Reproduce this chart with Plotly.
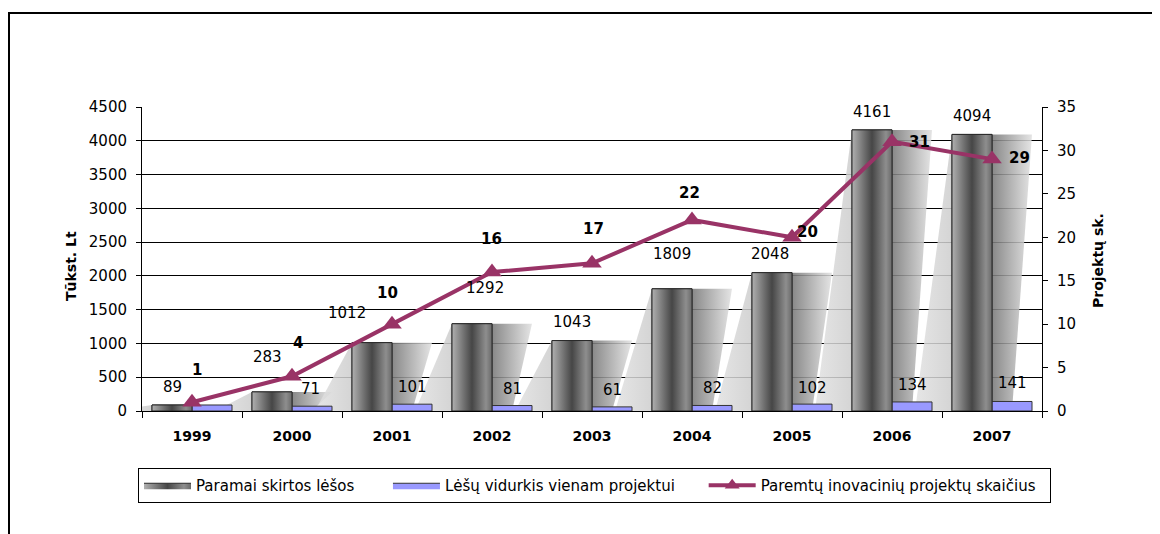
import plotly.graph_objects as go

years = ['1999', '2000', '2001', '2002', '2003', '2004', '2005', '2006', '2007']
funds = [89, 283, 1012, 1292, 1043, 1809, 2048, 4161, 4094]
avg_per_project = [89, 71, 101, 81, 61, 82, 102, 134, 141]
projects = [1, 4, 10, 16, 17, 22, 20, 31, 29]

name_funds = 'Paramai skirtos lėšos'
name_avg = 'Lėšų vidurkis vienam projektui'
name_proj = 'Paremtų inovacinių projektų skaičius'

# label offsets (pixels) - styling only
funds_lbl_off = [(0, 18), (-5, 35), (-25, 30), (13, 36), (0, 19), (0, 35), (-2, 19), (0, 18), (0, 18)]
avg_lbl_off = [None, (-2, 17), (0, 17), (0, 17), (0, 17), (0, 17), (0, 16), (0, 17), (0, 18)]
proj_lbl_off = [(5, 32), (6, 33), (-5, 31), (-1, 33), (1, 34), (-3, 27), (15, 5), (27, 0), (27, 1)]

FONT = 'DejaVu Sans'
LINE_COLOR = '#993366'
BAR_W = 0.4
SH_L = 0.37   # shadow slant at left edge (category units)
SH_R = 0.20   # shadow slant at right edge
BAR_GRAD = [[0, '#b0b0b0'], [0.5, '#464646'], [0.85, '#8e8e8e'], [1, '#6a6a6a']]
SHADOW_GRAD = [[0, 'rgba(226,226,226,0.85)'], [0.3, 'rgba(206,206,206,0.85)'],
               [0.66, 'rgba(120,120,120,0.88)'], [1, 'rgba(224,224,224,0.85)']]
NBSP = '\u00a0'

# figure / plot area geometry (px)
W, H = 1152, 526
ML, MT, PW, PH = 134, 99, 900, 304
MR, MB = W - ML - PW, H - MT - PH


def px_x(px):
    return (px - ML) / PW


def px_y(py):
    return (MT + PH - py) / PH


xs = list(range(len(years)))
fig = go.Figure()

# shadows (main subplot, drawn beneath the bars)
for i, v in zip(xs, funds):
    fig.add_trace(go.Scatter(
        x=[i - BAR_W, i + BAR_W, i + BAR_W - SH_R, i - BAR_W - SH_L, i - BAR_W],
        y=[v, v, 0, 0, v],
        mode='lines', line=dict(width=0), fill='toself', fillcolor='rgba(207,207,207,0.85)',
        fillgradient=dict(type='horizontal', colorscale=SHADOW_GRAD),
        showlegend=False, hoverinfo='skip', xaxis='x', yaxis='y'))

# bars
fig.add_trace(go.Bar(x=xs, y=funds, offset=-BAR_W, width=BAR_W, name=name_funds, showlegend=False,
                     marker=dict(color='#5a5a5a', line=dict(color='#2a2a2a', width=1)),
                     xaxis='x', yaxis='y2'))
fig.add_trace(go.Bar(x=xs, y=avg_per_project, offset=0, width=BAR_W, name=name_avg, showlegend=False,
                     marker=dict(color='#9999ff', line=dict(color='#333333', width=1)),
                     xaxis='x', yaxis='y2'))

# gradient face on the dark bars
for i, v in zip(xs, funds):
    fig.add_trace(go.Scatter(
        x=[i - BAR_W, i, i, i - BAR_W, i - BAR_W],
        y=[0, 0, v, v, 0],
        mode='lines', line=dict(width=1, color='#2a2a2a'), fill='toself', fillcolor='#5a5a5a',
        fillgradient=dict(type='horizontal', colorscale=BAR_GRAD),
        showlegend=False, hoverinfo='skip', xaxis='x', yaxis='y2'))

# line
fig.add_trace(go.Scatter(x=xs, y=projects, mode='lines+markers', name=name_proj, showlegend=False,
                         line=dict(color=LINE_COLOR, width=4),
                         marker=dict(symbol='triangle-up', size=17, color=LINE_COLOR),
                         xaxis='x', yaxis='y3'))

# legend entries
fig.add_trace(go.Scatter(x=[None], y=[None], name=name_funds + NBSP * 6, mode='lines', fill='toself',
                         fillcolor='#5a5a5a', fillgradient=dict(type='horizontal', colorscale=BAR_GRAD),
                         line=dict(color='#2a2a2a', width=1), xaxis='x', yaxis='y2'))
fig.add_trace(go.Scatter(x=[None], y=[None], name=name_avg + NBSP * 5, mode='lines', fill='toself',
                         fillcolor='#9999ff', line=dict(color='#333333', width=1), xaxis='x', yaxis='y2'))
fig.add_trace(go.Scatter(x=[None], y=[None], name=name_proj + NBSP * 2, mode='lines+markers',
                         line=dict(color=LINE_COLOR, width=4),
                         marker=dict(symbol='triangle-up', size=13, color=LINE_COLOR),
                         xaxis='x', yaxis='y3'))

annotations = []
for i, v, off in zip(xs, funds, funds_lbl_off):
    annotations.append(dict(x=i - BAR_W / 2, y=v, xref='x', yref='y', text=str(v), showarrow=False,
                            xshift=off[0], yshift=off[1], font=dict(family=FONT, size=15, color='black')))
for i, v, off in zip(xs, avg_per_project, avg_lbl_off):
    if off is None:
        continue
    annotations.append(dict(x=i + BAR_W / 2, y=v, xref='x', yref='y', text=str(v), showarrow=False,
                            xshift=off[0], yshift=off[1], font=dict(family=FONT, size=15, color='black')))
for i, v, off in zip(xs, projects, proj_lbl_off):
    annotations.append(dict(x=i, y=v, xref='x', yref='y3', text='<b>%d</b>' % v, showarrow=False,
                            xshift=off[0], yshift=off[1], font=dict(family=FONT, size=15, color='black')))

annotations.append(dict(x=px_x(71 - 8), y=px_y(266 - 8), xref='paper', yref='paper', text='<b>Tūkst. Lt</b>',
                        textangle=-90, showarrow=False, xanchor='center', yanchor='middle',
                        font=dict(family=FONT, size=14, color='black')))
annotations.append(dict(x=px_x(1098 - 8), y=px_y(261 - 8), xref='paper', yref='paper', text='<b>Projektų sk.</b>',
                        textangle=-90, showarrow=False, xanchor='center', yanchor='middle',
                        font=dict(family=FONT, size=14, color='black')))

fig.update_layout(
    width=W, height=H,
    margin=dict(l=ML, r=MR, t=MT, b=MB),
    paper_bgcolor='white', plot_bgcolor='white',
    font=dict(family=FONT, size=15, color='black'),
    barmode='overlay',
    showlegend=True,
    legend=dict(orientation='h', x=px_x(138 - 8), xanchor='left', y=px_y(468 - 8), yanchor='top',
                bordercolor='#000000', borderwidth=1, bgcolor='white',
                font=dict(family=FONT, size=15, color='black'),
                itemwidth=47, traceorder='normal'),
    xaxis=dict(range=[-0.5, 8.5], tickmode='array', tickvals=xs, ticktext=['<b>%s</b>' % y for y in years],
               ticks='', showgrid=False, zeroline=False, showline=True, linecolor='black', linewidth=1,
               tickfont=dict(family=FONT, size=14), ticklabelstandoff=12,
               minor=dict(ticks='outside', tickmode='array', tickvals=[k - 0.5 for k in range(len(years) + 1)],
                          ticklen=6, tickcolor='black', showgrid=False)),
    yaxis=dict(range=[0, 4500], dtick=500, showgrid=True, gridcolor='black', gridwidth=1,
               zeroline=False, showline=True, linecolor='black', linewidth=1,
               ticks='outside', ticklen=5, tickcolor='black', ticklabelstandoff=6,
               tickfont=dict(family=FONT, size=15)),
    yaxis2=dict(range=[0, 4500], overlaying='y', visible=False),
    yaxis3=dict(range=[0, 35], dtick=5, overlaying='y', side='right', anchor='x', showgrid=False,
                zeroline=False, showline=True, linecolor='black', linewidth=1,
                ticks='outside', ticklen=5, tickcolor='black', ticklabelstandoff=6,
                tickfont=dict(family=FONT, size=15)),
    annotations=annotations,
    shapes=[dict(type='rect', xref='paper', yref='paper', x0=px_x(1), y0=px_y(H + 20), x1=px_x(W + 20),
                 y1=px_y(5), line=dict(color='black', width=2), fillcolor='rgba(0,0,0,0)', layer='above')],
)

fig.write_html('out.html')
